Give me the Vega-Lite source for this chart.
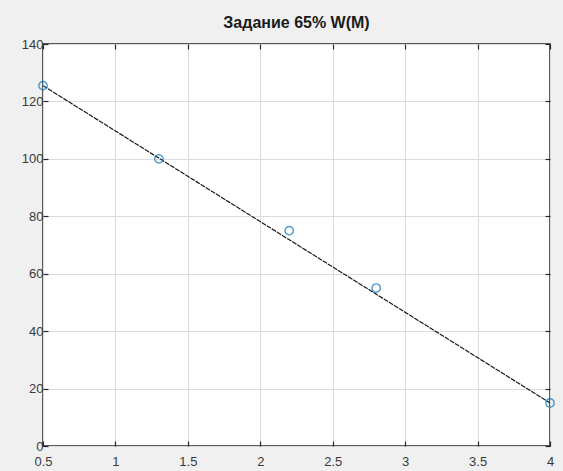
{
  "$schema": "https://vega.github.io/schema/vega-lite/v6.json",
  "width": 507,
  "height": 402,
  "autosize": {"type": "none"},
  "padding": {"left": 43, "top": 44, "right": 13, "bottom": 25},
  "background": "#f0f0f0",
  "title": {
    "text": "Задание 65% W(M)",
    "font": "Liberation Sans",
    "fontSize": 16,
    "fontWeight": "bold",
    "color": "#1a1a1a",
    "offset": 7,
    "anchor": "middle"
  },
  "config": {
    "view": {"fill": "white", "stroke": "#262626", "strokeWidth": 1.5},
    "axis": {
      "labelFont": "Liberation Sans",
      "labelFontSize": 13,
      "labelColor": "#3a3a3a",
      "domain": false,
      "tickColor": "#262626",
      "tickSize": -5,
      "tickWidth": 1.2,
      "gridColor": "#dcdcdc",
      "gridWidth": 1,
      "gridOpacity": 1,
      "title": null
    }
  },
  "datasets": {
    "pts": [
      {"M": 0.5, "W": 125.5},
      {"M": 1.3, "W": 100},
      {"M": 2.2, "W": 75},
      {"M": 2.8, "W": 55},
      {"M": 4, "W": 15}
    ],
    "fit": [
      {"M": 0.5, "W": 125.5},
      {"M": 4, "W": 15}
    ]
  },
  "layer": [
    {
      "data": {"name": "pts"},
      "mark": {"type": "point", "shape": "circle", "filled": false, "opacity": 0, "size": 1},
      "encoding": {
        "x": {"field": "M", "type": "quantitative",
          "scale": {"domain": [0.5, 4], "nice": false, "zero": false},
          "axis": {"orient": "bottom", "values": [0.5, 1, 1.5, 2, 2.5, 3, 3.5, 4], "labelExpr": "datum.value", "labelPadding": 14, "labelFlush": false, "grid": true}},
        "y": {"field": "W", "type": "quantitative",
          "scale": {"domain": [0, 140], "nice": false},
          "axis": {"orient": "left", "values": [0, 20, 40, 60, 80, 100, 120, 140], "labelPadding": 5, "grid": true}}
      }
    },
    {
      "data": {"name": "fit"},
      "mark": {"type": "line", "color": "#1a1a1a", "strokeWidth": 1.2, "strokeDash": [5, 1], "clip": true},
      "encoding": {
        "x": {"field": "M", "type": "quantitative",
          "scale": {"domain": [0.5, 4], "nice": false, "zero": false},
          "axis": {"orient": "top", "values": [0.5, 1, 1.5, 2, 2.5, 3, 3.5, 4], "labels": false, "grid": false}},
        "y": {"field": "W", "type": "quantitative",
          "scale": {"domain": [0, 140], "nice": false},
          "axis": {"orient": "right", "values": [0, 20, 40, 60, 80, 100, 120, 140], "labels": false, "grid": false}}
      }
    },
    {
      "data": {"name": "pts"},
      "mark": {"type": "point", "shape": "circle", "filled": false, "color": "#0072BD", "size": 70, "strokeWidth": 1.4, "clip": false},
      "encoding": {
        "x": {"field": "M", "type": "quantitative", "axis": null},
        "y": {"field": "W", "type": "quantitative", "axis": null}
      }
    }
  ],
  "resolve": {"axis": {"x": "independent", "y": "independent"}}
}
